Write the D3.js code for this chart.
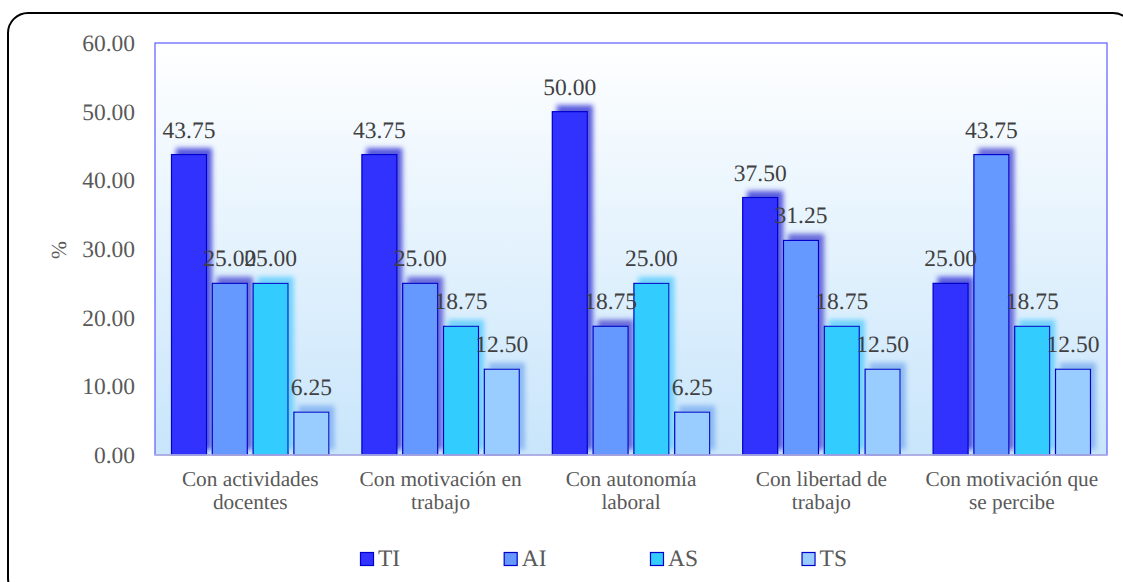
<!DOCTYPE html>
<html>
<head>
<meta charset="utf-8">
<script src="https://cdn.jsdelivr.net/npm/d3@7"></script>
<style>
  body { margin: 0; background: #ffffff; }
  svg, svg text, svg tspan {
    font-family: "Liberation Serif", Tinos, "Times New Roman", Times, "DejaVu Serif", serif;
    text-rendering: geometricPrecision;
  }
  svg { display: block; }
</style>
</head>
<body>
<svg id="chart" width="1123" height="582"></svg>
<script>
// Categories (line breaks mark the wrapped axis labels)
const categories = [
  "Con actividades\ndocentes",
  "Con motivación en\ntrabajo",
  "Con autonomía\nlaboral",
  "Con libertad de\ntrabajo",
  "Con motivación que\nse percibe"
];
const seriesNames = ["TI", "AI", "AS", "TS"];
const valuesTI = [43.75, 43.75, 50.00, 37.50, 25.00];
const valuesAI = [25.00, 25.00, 18.75, 31.25, 43.75];
const valuesAS = [25.00, 18.75, 25.00, 18.75, 18.75];
const valuesTS = [6.25, 12.50, 6.25, 12.50, 12.50];
const yTicks = [0, 10, 20, 30, 40, 50, 60];
const yTitle = "%";

// Styling
const fontStack = "'Liberation Serif', Tinos, 'Times New Roman', Times, 'DejaVu Serif', serif";
const fillColors = ["#3333ff", "#6699ff", "#33ccff", "#99ccff"];
const glowColors = ["#3434d6", "#4a4ad2", "#55ccff", "#7aaef0"];

const series = [valuesTI, valuesAI, valuesAS, valuesTS];
const rows = categories.map((c, i) => ({
  category: c,
  bars: seriesNames.map((s, j) => ({ series: s, value: series[j][i] }))
}));

const svg = d3.select("#chart").attr("font-family", fontStack);
const plot = { left: 155, right: 1107, top: 43, bottom: 455 };

const defs = svg.append("defs");
const grad = defs.append("linearGradient").attr("id", "plotBg")
  .attr("x1", 0).attr("y1", 0).attr("x2", 0).attr("y2", 1);
grad.append("stop").attr("offset", "0%").attr("stop-color", "#ffffff");
grad.append("stop").attr("offset", "100%").attr("stop-color", "#c8e5fb");

seriesNames.forEach((s, j) => {
  const f = defs.append("filter").attr("id", "glow-" + s)
    .attr("x", "-60%").attr("y", "-60%").attr("width", "220%").attr("height", "220%");
  f.append("feFlood").attr("flood-color", glowColors[j]).attr("flood-opacity", 0.8);
  f.append("feComposite").attr("in2", "SourceAlpha").attr("operator", "in");
  f.append("feOffset").attr("dx", 5).attr("dy", -6);
  f.append("feGaussianBlur").attr("stdDeviation", 2.6);
  const m = f.append("feMerge");
  m.append("feMergeNode");
  m.append("feMergeNode").attr("in", "SourceGraphic");
});

// Outer chart frame with rounded corners
svg.append("rect")
  .attr("x", 8).attr("y", 13).attr("width", 1125).attr("height", 585)
  .attr("rx", 20).attr("ry", 20)
  .attr("fill", "#ffffff").attr("stroke", "#000000").attr("stroke-width", 2);

// Plot area
svg.append("rect")
  .attr("x", plot.left).attr("y", plot.top)
  .attr("width", plot.right - plot.left).attr("height", plot.bottom - plot.top)
  .attr("fill", "url(#plotBg)");

const x0 = d3.scaleBand().domain(categories).range([plot.left, plot.right]).padding(0);
const x1 = d3.scaleBand().domain(seriesNames)
  .range([16.5, x0.bandwidth() - 16.5]).paddingInner(0.142).paddingOuter(0);
const y = d3.scaleLinear().domain([0, 60]).range([plot.bottom, plot.top]);
const color = d3.scaleOrdinal().domain(seriesNames).range(fillColors);

// Bars
const groups = svg.append("g").selectAll("g").data(rows).join("g")
  .attr("transform", d => `translate(${x0(d.category)},0)`);

groups.selectAll("rect").data(d => d.bars).join("rect")
  .attr("x", d => x1(d.series))
  .attr("y", d => y(d.value))
  .attr("width", x1.bandwidth())
  .attr("height", d => y(0) - y(d.value))
  .attr("fill", d => color(d.series))
  .attr("stroke", "#0000cc")
  .attr("stroke-width", 1.2)
  .attr("filter", d => `url(#glow-${d.series})`);

// Value labels
groups.selectAll("text").data(d => d.bars).join("text")
  .attr("x", d => x1(d.series) + x1.bandwidth() / 2)
  .attr("y", d => y(d.value) - 17)
  .attr("text-anchor", "middle")
  .attr("font-family", fontStack)
  .attr("font-size", 23.5)
  .attr("fill", "#404040")
  .text(d => d.value.toFixed(2));

// Plot border
svg.append("rect")
  .attr("x", plot.left).attr("y", plot.top)
  .attr("width", plot.right - plot.left).attr("height", plot.bottom - plot.top)
  .attr("fill", "none").attr("stroke", "#5c5cff").attr("stroke-width", 1.2);
svg.append("line")
  .attr("x1", plot.left).attr("x2", plot.right)
  .attr("y1", plot.bottom).attr("y2", plot.bottom)
  .attr("stroke", "#b8b8dc").attr("stroke-width", 1.5);

// Y axis
const yAxis = svg.append("g").attr("transform", `translate(${plot.left},0)`)
  .call(d3.axisLeft(y).tickValues(yTicks).tickFormat(d3.format(".2f")).tickSize(0).tickPadding(20));
yAxis.attr("font-family", fontStack);
yAxis.select(".domain").remove();
yAxis.selectAll("text")
  .attr("font-family", fontStack)
  .attr("font-size", 23.5).attr("fill", "#595959");

svg.append("text")
  .attr("transform", "translate(66,250) rotate(-90)")
  .attr("text-anchor", "middle")
  .attr("font-family", fontStack)
  .attr("font-size", 21.5).attr("fill", "#595959")
  .text(yTitle);

// X axis with wrapped labels
const xAxis = svg.append("g").attr("transform", `translate(0,${plot.bottom})`)
  .call(d3.axisBottom(x0).tickSize(0).tickFormat(""));
xAxis.attr("font-family", fontStack);
xAxis.select(".domain").remove();
xAxis.selectAll(".tick").append("text")
  .attr("text-anchor", "middle")
  .attr("font-family", fontStack)
  .attr("font-size", 21.3).attr("fill", "#595959")
  .each(function(d) {
    const lines = d.split("\n");
    const t = d3.select(this);
    lines.forEach((ln, i) => {
      t.append("tspan").attr("x", 0).attr("y", 31 + i * 23).text(ln);
    });
  });

// Legend
const legend = svg.append("g");
let lx = 360.5;
seriesNames.forEach((s, j) => {
  const item = legend.append("g").attr("transform", `translate(${lx},0)`);
  item.append("rect").attr("x", 0).attr("y", 552.5).attr("width", 13).attr("height", 13)
    .attr("fill", fillColors[j]).attr("stroke", "#0000cc").attr("stroke-width", 1.2);
  const t = item.append("text").attr("x", 17.5).attr("y", 566)
    .attr("font-family", fontStack)
    .attr("font-size", 23.5).attr("fill", "#595959").text(s);
  lx += 17.5 + t.node().getComputedTextLength() + 104;
});
</script>
</body>
</html>
